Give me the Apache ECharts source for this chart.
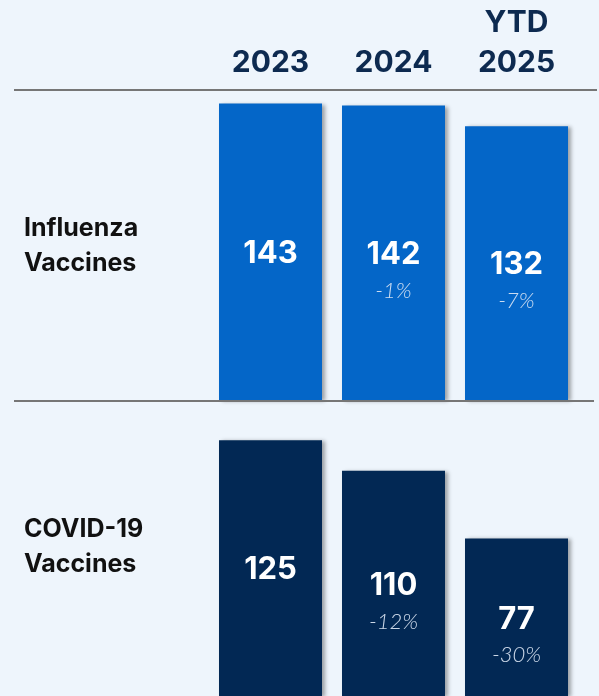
<!DOCTYPE html>
<html>
<head>
<meta charset="utf-8">
<script src="https://cdn.jsdelivr.net/npm/echarts@6/dist/echarts.min.js"></script>
<style>
html,body{margin:0;padding:0;background:#eef5fc;}
#c{width:599px;height:696px;}
</style>
</head>
<body>
<div id="c"></div>
<script>
var headers = ['2023', '2024', 'YTD\n2025'];
var rowLabels = ['Influenza\nVaccines', 'COVID-19\nVaccines'];
var fluValues = [143, 142, 132];
var fluChange = [null, '-1%', '-7%'];
var covidValues = [125, 110, 77];
var covidChange = [null, '-12%', '-30%'];

var FONT = 'Inter, "Open Sans", sans-serif';
var PFONT = 'Lato, "Open Sans", sans-serif';

function buildData(values, changes) {
  return values.map(function (v, i) {
    return { value: v, change: changes[i] };
  });
}

function labelFmt(p) {
  var ch = p.data.change;
  if (ch) return '{s|}\n{v|' + p.value + '}\n{p|' + ch + '}';
  return '{v|' + p.value + '}';
}

var rich = {
  s: { height: 36, lineHeight: 36 },
  v: { fontSize: 31, fontWeight: 'bold', color: '#ffffff', lineHeight: 36, fontFamily: FONT },
  p: { fontSize: 22, fontStyle: 'italic', fontWeight: 300, color: 'rgba(220,230,244,0.92)', lineHeight: 36, fontFamily: PFONT }
};

var shadow = { shadowColor: 'rgba(0,0,0,0.35)', shadowBlur: 4, shadowOffsetX: 3, shadowOffsetY: 1 };

var chart = echarts.init(document.getElementById('c'), null, { renderer: 'canvas' });
chart.setOption({
  backgroundColor: '#eef5fc',
  animation: false,
  grid: [
    { left: 209, right: 21, top: 89, height: 311 },
    { left: 209, right: 21, top: 389, height: 311 }
  ],
  xAxis: [
    {
      gridIndex: 0, type: 'category', data: headers, position: 'top',
      axisLine: { show: false }, axisTick: { show: false },
      axisLabel: { color: '#0d2a50', fontSize: 30, fontWeight: 'bold', fontFamily: FONT, lineHeight: 40, margin: 6 }
    },
    {
      gridIndex: 1, type: 'category', data: headers, show: false
    }
  ],
  yAxis: [
    { gridIndex: 0, type: 'value', min: 0, max: 150, show: false, splitLine: { show: false } },
    { gridIndex: 1, type: 'value', min: 0, max: 150, show: false, splitLine: { show: false } }
  ],
  series: [
    {
      type: 'bar', xAxisIndex: 0, yAxisIndex: 0, barWidth: 103,
      data: buildData(fluValues, fluChange),
      itemStyle: Object.assign({ color: '#0466c8' }, shadow),
      label: { show: true, position: 'inside', offset: [0, 2], formatter: labelFmt, rich: rich }
    },
    {
      type: 'bar', xAxisIndex: 1, yAxisIndex: 1, barWidth: 103,
      data: buildData(covidValues, covidChange),
      itemStyle: Object.assign({ color: '#022854' }, shadow),
      label: { show: true, position: 'inside', offset: [0, 2], formatter: labelFmt, rich: rich }
    }
  ],
  graphic: [
    { type: 'line', shape: { x1: 14, y1: 90, x2: 597, y2: 90 }, style: { stroke: '#767676', lineWidth: 2 }, z: 10 },
    { type: 'line', shape: { x1: 14, y1: 401, x2: 594, y2: 401 }, style: { stroke: '#767676', lineWidth: 2 }, z: 10 },
    { type: 'text', left: 24, top: 211, style: { text: rowLabels[0], fill: '#111111', font: 'bold 25px ' + FONT, lineHeight: 35 } },
    { type: 'text', left: 24, top: 512, style: { text: rowLabels[1], fill: '#111111', font: 'bold 25px ' + FONT, lineHeight: 35 } }
  ]
});
</script>
</body>
</html>
